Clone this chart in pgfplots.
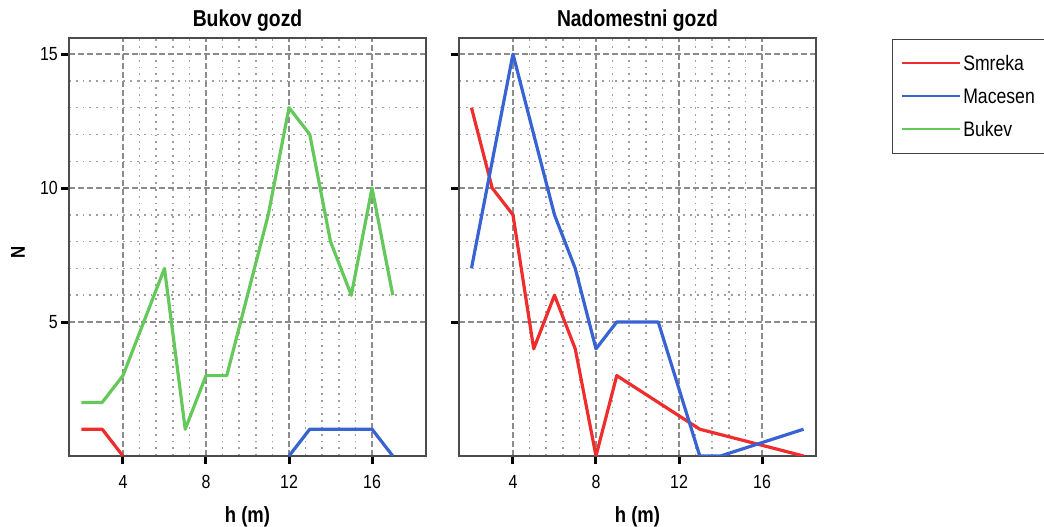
\documentclass[border=0pt]{standalone}
\usepackage{fontspec}
\setmainfont{Liberation Sans}[FakeStretch=0.84]
\usepackage{pgfplots}
\pgfplotsset{compat=1.18}

\definecolor{cred}{RGB}{240,45,45}
\definecolor{cblue}{RGB}{55,100,210}
\definecolor{cgreen}{RGB}{100,200,90}

\pgfplotsset{
  myaxis/.style={
    scale only axis, width=357pt, height=418pt,
    xmin=1.4, xmax=18.6, ymin=0, ymax=15.6,
    xtick={4,8,12,16}, ytick={5,10,15},
    minor tick num=4,
    grid=both,
    major grid style={gray!90, dash pattern=on 6pt off 3pt, line width=1.4pt},
    minor grid style={black!38, dash pattern=on 1.8pt off 5pt, line width=1.5pt},
    axis line style={gray!60!black, line width=1.6pt},
    tick align=outside, tick pos=left,
    major tick length=8pt, minor tick length=0pt,
    every tick/.style={black, line width=3pt},
    /pgf/number format/assume math mode=true,
    ticklabel style={font=\fontsize{19}{22}\selectfont},
    xticklabel style={anchor=center, yshift=-18pt},
    yticklabel style={anchor=east, inner sep=0pt, xshift=-3pt},
    title style={font=\fontsize{23}{26}\selectfont\bfseries, anchor=base, at={(0.5,1)}, inner sep=0pt, yshift=5pt},
    xlabel style={font=\fontsize{22}{24}\selectfont\bfseries, at={(axis description cs:0.5,-0.146)}, anchor=center},
    ylabel style={font=\fontsize{20}{22}\selectfont\bfseries, at={(axis description cs:-0.143,0.486)}, anchor=center, rotate=0},
    every axis plot/.append style={line width=3.2pt, line join=round},
  }
}

\begin{document}
\begin{tikzpicture}
\path[use as bounding box] (0,0) rectangle (1044pt,527pt);
\begin{axis}[myaxis, at={(69pt,71pt)}, anchor=south west,
  title={Bukov gozd}, xlabel={h (m)}, ylabel={N}]
\addplot[color=cred, draw=cred] coordinates {(2,1)(3,1)(4,0)};
\addplot[color=cblue, draw=cblue] coordinates {(12,0)(13,1)(14,1)(15,1)(16,1)(17,0)};
\addplot[color=cgreen, draw=cgreen] coordinates {(2,2)(3,2)(4,3)(5,5)(6,7)(7,1)(8,3)(9,3)(10,6)(11,9)(12,13)(13,12)(14,8)(15,6)(16,10)(17,6)};
\end{axis}
\begin{axis}[myaxis, at={(459pt,71pt)}, anchor=south west,
  title={Nadomestni gozd}, xlabel={h (m)}, yticklabels={,,},
  legend style={at={(axis description cs:1.213,0.998)}, anchor=north west,
    draw=gray!50!black, line width=1pt, fill=white,
    font=\fontsize{21}{23}\selectfont, inner xsep=9pt, inner ysep=14pt, row sep=13pt,
    nodes={inner sep=2pt, text height=15pt, text depth=1pt}},
  legend cell align=left]
\addplot[color=cred, draw=cred, forget plot] coordinates {(2,13)(3,10)(4,9)(5,4)(6,6)(7,4)(8,0)(9,3)(13,1)(18,0)};
\addplot[color=cblue, draw=cblue, forget plot] coordinates {(2,7)(4,15)(6,9)(7,7)(8,4)(9,5)(11,5)(13,0)(14,0)(18,1)};
\addlegendimage{legend image code/.code={\draw[color=cred, draw=cred, line width=1.7pt] (0pt,0pt) -- (58pt,0pt);}}
\addlegendentry{Smreka}
\addlegendimage{legend image code/.code={\draw[color=cblue, draw=cblue, line width=1.7pt] (0pt,0pt) -- (58pt,0pt);}}
\addlegendentry{Macesen\hspace{12pt}}
\addlegendimage{legend image code/.code={\draw[color=cgreen, draw=cgreen, line width=1.7pt] (0pt,0pt) -- (58pt,0pt);}}
\addlegendentry{Bukev}
\end{axis}
\end{tikzpicture}
\end{document}
